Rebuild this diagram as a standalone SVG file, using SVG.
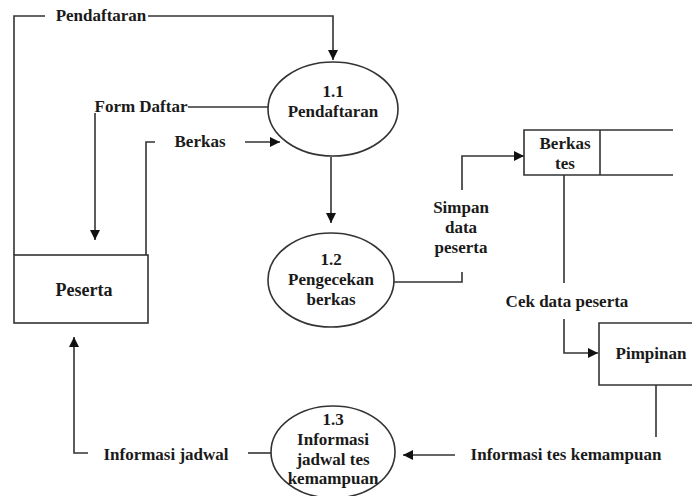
<svg xmlns="http://www.w3.org/2000/svg" width="692" height="496" viewBox="0 0 692 496">
<defs>
<marker id="ah" viewBox="0 0 10 10" refX="10" refY="5" markerWidth="10" markerHeight="10" markerUnits="userSpaceOnUse" orient="auto">
<path d="M0,0 L10,5 L0,10 z" fill="#111"/>
</marker>
<style>
.t{font-family:"Liberation Serif","Times New Roman",serif;font-weight:bold;font-size:17px;fill:#1a1a1a;text-anchor:middle}
.s{fill:none;stroke:#333;stroke-width:1.6}
.n{fill:#fff;stroke:#333;stroke-width:1.6}
</style>
</defs>
<rect width="692" height="496" fill="#fff"/>
<g id="connectors">
<path class="s" d="M45,16 H14 V255"/>
<path class="s" d="M148,16 H333 V60" marker-end="url(#ah)"/>
<text class="t" x="101" y="21">Pendaftaran</text>
<path class="s" d="M268,107 H188"/>
<text class="t" x="141" y="112">Form Daftar</text>
<path class="s" d="M95,113 V240" marker-end="url(#ah)"/>
<path class="s" d="M146,255 V142 H155"/>
<text class="t" x="200" y="147">Berkas</text>
<path class="s" d="M245,142 H280" marker-end="url(#ah)"/>
<path class="s" d="M331,157 V223" marker-end="url(#ah)"/>
<path class="s" d="M394,282 H462 V272"/>
<text class="t" x="461" y="213">Simpan</text>
<text class="t" x="461" y="233">data</text>
<text class="t" x="461" y="253">peserta</text>
<path class="s" d="M462,190 V156 H524" marker-end="url(#ah)"/>
<path class="s" d="M564,175 V283"/>
<text class="t" x="567" y="307">Cek data peserta</text>
<path class="s" d="M564,319 V353 H598" marker-end="url(#ah)"/>
<path class="s" d="M656,385 V437"/>
<text class="t" x="566" y="460">Informasi tes kemampuan</text>
<path class="s" d="M455,455 H403" marker-end="url(#ah)"/>
<path class="s" d="M272,453 H248"/>
<text class="t" x="166" y="460">Informasi jadwal</text>
<path class="s" d="M88,453 H74 V337" marker-end="url(#ah)"/>
</g>
<g id="p11">
<ellipse class="n" cx="333" cy="109" rx="65" ry="47"/>
<text class="t" x="333" y="97">1.1</text>
<text class="t" x="333" y="117">Pendaftaran</text>
</g>
<g id="p12">
<ellipse class="n" cx="331" cy="280" rx="63" ry="47"/>
<text class="t" x="331" y="265">1.2</text>
<text class="t" x="331" y="285">Pengecekan</text>
<text class="t" x="331" y="305">berkas</text>
</g>
<g id="p13">
<ellipse class="n" cx="333" cy="452" rx="62" ry="46"/>
<text class="t" x="333" y="425">1.3</text>
<text class="t" x="333" y="445">Informasi</text>
<text class="t" x="333" y="465">jadwal tes</text>
<text class="t" x="333" y="484">kemampuan</text>
</g>
<g id="peserta">
<rect class="n" x="14" y="255" width="134" height="68"/>
<text class="t" x="84" y="296" style="font-size:18px">Peserta</text>
</g>
<g id="berkas-tes">
<path class="s" d="M673,130 H524 V175 H673 M600,130 V175"/>
<text class="t" x="565" y="149">Berkas</text>
<text class="t" x="565" y="169">tes</text>
</g>
<g id="pimpinan">
<path class="n" d="M700,323 H599 V385 H700"/>
<text class="t" x="651" y="359">Pimpinan</text>
</g>
</svg>
